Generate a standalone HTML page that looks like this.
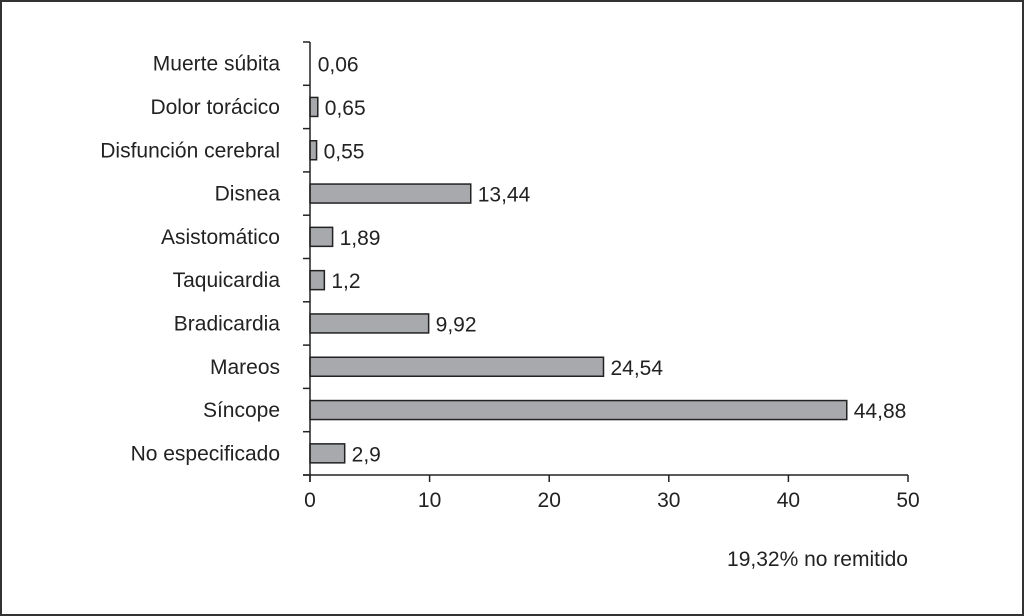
<!DOCTYPE html>
<html><head><meta charset="utf-8"><style>
body{margin:0;background:#fff}
svg{display:block}
text{font-family:"Liberation Sans Narrow","Liberation Sans",sans-serif;font-size:21px;fill:#222}
</style></head><body>
<svg id="chart" width="1024" height="616">
<rect x="1" y="1" width="1022" height="614" fill="#fff" stroke="#333" stroke-width="2"/>
<g id="plot"></g>
<text x="908" y="566" text-anchor="end">19,32% no remitido</text>
</svg>
<script>
const categories=["Muerte súbita","Dolor torácico","Disfunción cerebral","Disnea","Asistomático","Taquicardia","Bradicardia","Mareos","Síncope","No especificado"];
const values=[0.06,0.65,0.55,13.44,1.89,1.2,9.92,24.54,44.88,2.9];
const labels=["0,06","0,65","0,55","13,44","1,89","1,2","9,92","24,54","44,88","2,9"];
const ticks=[0,10,20,30,40,50];
const NS="http://www.w3.org/2000/svg";
const g=document.getElementById('plot');
const x0=310,x1=908,yTop=42,yBottom=475;
const band=(yBottom-yTop)/categories.length;
const xs=v=>x0+(v/50)*(x1-x0);
const ys=i=>yTop+band*i;
function mk(t,a){const e=document.createElementNS(NS,t);for(const k in a)e.setAttribute(k,a[k]);g.appendChild(e);return e;}
categories.forEach((c,i)=>{
  const yc=ys(i)+band/2;
  const w=Math.max(0,xs(values[i])-x0);
  if(w>=1){
    const r=mk('rect',{x:x0,y:yc-9.5,width:w,height:19,fill:'#a7a9ac',stroke:'#222','stroke-width':1.5});
    
    
  }
  const t=mk('text',{x:x0+w+7,y:yc+8});t.textContent=labels[i];
  
  
  const l=mk('text',{x:280,y:yc+7,'text-anchor':'end'});l.textContent=c;
  
  
});
for(let i=0;i<=categories.length;i++){
  const tk=mk('line',{x1:x0-7,x2:x0,y1:ys(i),y2:ys(i),stroke:'#222','stroke-width':1.5});
  
  
}
const ya=mk('line',{x1:x0,x2:x0,y1:yTop,y2:yBottom+7,stroke:'#222','stroke-width':1.5});


const xa=mk('line',{x1:x0-7,x2:x1,y1:yBottom,y2:yBottom,stroke:'#222','stroke-width':1.5});


ticks.forEach(v=>{
  const l=mk('line',{x1:xs(v),x2:xs(v),y1:yBottom,y2:yBottom+7,stroke:'#222','stroke-width':1.5});
  
  
  const t=mk('text',{x:xs(v),y:yBottom+32,'text-anchor':'middle'});t.textContent=v;
  
  
});
</script>
</body></html>
